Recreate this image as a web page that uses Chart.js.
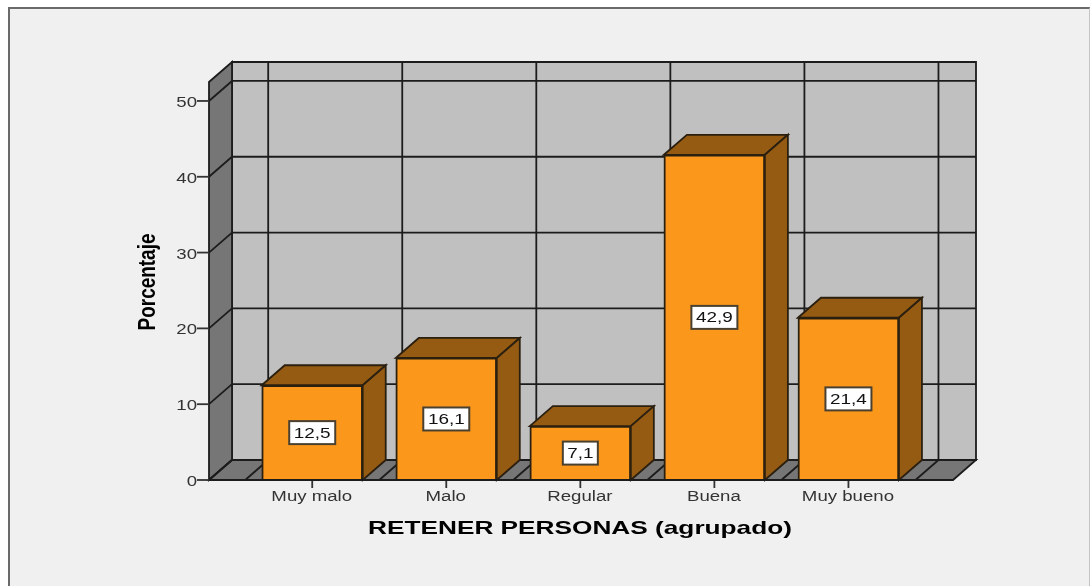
<!DOCTYPE html>
<html>
<head>
<meta charset="utf-8">
<title>RETENER PERSONAS (agrupado)</title>
<script src="https://cdn.jsdelivr.net/npm/chart.js@4/dist/chart.umd.min.js"></script>
<style>
  html, body { margin: 0; padding: 0; background: #fff; width: 1092px; height: 586px; overflow: hidden; }
  #frame { position: absolute; left: 8px; top: 7px; width: 1082px; height: 579px; background: #f0f0f0;
           border-left: 2px solid #6a6a6a; border-top: 2px solid #6a6a6a; border-right: 1px solid #c4c4c4; box-sizing: border-box; filter: blur(0.4px); }
  #chart { position: absolute; left: 0; top: 0; filter: blur(0.5px); }
</style>
</head>
<body>
<div id="frame"></div>
<canvas id="chart" width="1092" height="586"></canvas>
<script>
  const categories = ['Muy malo', 'Malo', 'Regular', 'Buena', 'Muy bueno'];
  const values = [12.5, 16.1, 7.1, 42.9, 21.4];
  const yTicks = [0, 10, 20, 30, 40, 50];
  const xTitle = 'RETENER PERSONAS (agrupado)';
  const yTitle = 'Porcentaje';

  const DX = 23, DY = 20;           // depth of the fake 3D box
  const FONT = '"Liberation Sans", Arial, sans-serif';
  const LINE = '#1c1c1c';

  function fmtEs(v) { return v.toFixed(1).replace('.', ','); }

  // the reference text is stretched wide, so scale it horizontally around x
  function wideText(ctx, text, x, y, font, color, sx, align) {
    ctx.save();
    ctx.font = font;
    ctx.fillStyle = color;
    ctx.textBaseline = 'alphabetic';
    ctx.textAlign = align || 'center';
    ctx.translate(x, y);
    ctx.scale(sx, 1);
    ctx.fillText(text, 0, 0);
    ctx.restore();
  }

  function seg(ctx, x1, y1, x2, y2) {
    ctx.beginPath();
    ctx.moveTo(x1, y1);
    ctx.lineTo(x2, y2);
    ctx.stroke();
  }

  function poly(ctx, pts, fill) {
    ctx.beginPath();
    pts.forEach((p, i) => i ? ctx.lineTo(p[0], p[1]) : ctx.moveTo(p[0], p[1]));
    ctx.closePath();
    ctx.fillStyle = fill;
    ctx.fill();
    ctx.stroke();
  }

  const box3d = {
    id: 'box3d',
    beforeDatasetsDraw(chart) {
      const { ctx, chartArea: a, scales: { x, y } } = chart;
      const l = a.left, r = a.right, t = a.top, b = a.bottom;
      ctx.save();
      ctx.strokeStyle = LINE;
      ctx.lineWidth = 1.8;
      // back wall, side wall, floor
      poly(ctx, [[l + DX, t - DY], [r + DX, t - DY], [r + DX, b - DY], [l + DX, b - DY]], '#c0c0c0');
      poly(ctx, [[l, t], [l + DX, t - DY], [l + DX, b - DY], [l, b]], '#767676');
      poly(ctx, [[l, b], [l + DX, b - DY], [r + DX, b - DY], [r, b]], '#767676');
      // horizontal grid lines run along side wall then back wall
      yTicks.forEach(v => {
        const py = y.getPixelForValue(v);
        seg(ctx, l, py, l + DX, py - DY);
        seg(ctx, l + DX, py - DY, r + DX, py - DY);
      });
      // vertical grid lines sit between categories, on back wall and floor
      categories.concat('').forEach((c, i) => {
        const px = x.getPixelForValue(i - 0.5);
        seg(ctx, px + DX, t - DY, px + DX, b - DY);
        seg(ctx, px, b, px + DX, b - DY);
      });
      // axis ticks
      ctx.strokeStyle = '#333';
      yTicks.forEach(v => {
        const py = y.getPixelForValue(v);
        seg(ctx, l - 12, py, l, py);
      });
      categories.forEach((c, i) => {
        const px = x.getPixelForValue(i);
        seg(ctx, px, b, px, b + 8);
      });
      ctx.restore();
    },
    afterDatasetsDraw(chart) {
      const { ctx, chartArea: a } = chart;
      const bars = chart.getDatasetMeta(0).data;
      ctx.save();
      ctx.strokeStyle = '#2b2010';
      ctx.lineWidth = 1.8;
      bars.forEach(bar => {
        const hw = bar.width / 2;
        const L = bar.x - hw, R = bar.x + hw, T = bar.y, B = bar.base;
        poly(ctx, [[L, T], [L + DX, T - DY], [R + DX, T - DY], [R, T]], '#955b12');
        poly(ctx, [[R, T], [R + DX, T - DY], [R + DX, B - DY], [R, B]], '#955b12');
      });
      // value boxes
      const font = '14px ' + FONT;
      bars.forEach((bar, i) => {
        const txt = fmtEs(values[i]);
        ctx.font = font;
        const tw = ctx.measureText(txt).width * 1.35;
        const w = Math.round(tw + 9), h = 23;
        const cy = (bar.y + bar.base) / 2;
        ctx.fillStyle = '#fff';
        ctx.strokeStyle = '#4a4030';
        ctx.lineWidth = 2;
        ctx.fillRect(bar.x - w / 2, cy - h / 2, w, h);
        ctx.strokeRect(bar.x - w / 2, cy - h / 2, w, h);
        wideText(ctx, txt, bar.x, cy + 5, font, '#111', 1.35);
      });
      // front edge over the bar feet
      ctx.strokeStyle = LINE;
      seg(ctx, a.left, a.bottom, a.right, a.bottom);
      ctx.restore();
    },
    afterDraw(chart) {
      const { ctx, chartArea: a, scales: { x, y } } = chart;
      const tickFont = '14px ' + FONT;
      yTicks.forEach(v => {
        wideText(ctx, String(v), a.left - 12, y.getPixelForValue(v) + 6, tickFont, '#333', 1.33, 'right');
      });
      categories.forEach((c, i) => {
        wideText(ctx, c, x.getPixelForValue(i) - 0.5, a.bottom + 21, tickFont, '#333', 1.33);
      });
      wideText(ctx, xTitle, (a.left + a.right) / 2 - 1, a.bottom + 54, 'bold 19px ' + FONT, '#000', 1.38);
      ctx.save();
      ctx.translate(a.left - 54, (a.top + a.bottom) / 2 + 1);
      ctx.rotate(-Math.PI / 2);
      wideText(ctx, yTitle, 0, 0, 'bold 24px ' + FONT, '#000', 0.79);
      ctx.restore();
    }
  };

  new Chart(document.getElementById('chart'), {
    type: 'bar',
    data: {
      datasets: [{
        data: categories.map((c, i) => ({ x: i, y: values[i] })),
        backgroundColor: '#fb981c',
        borderColor: '#2b2010',
        borderWidth: 2,
        barThickness: 101
      }]
    },
    options: {
      responsive: false,
      animation: false,
      layout: { padding: { left: 209, right: 139, top: 82, bottom: 106 } },
      plugins: { legend: { display: false }, tooltip: { enabled: false } },
      scales: {
        x: {
          type: 'linear', min: -0.77, max: 4.78, offset: false,
          grid: { display: false, drawTicks: false }, border: { display: false },
          ticks: { display: false },
          afterBuildTicks(s) { s.ticks = categories.map((c, i) => ({ value: i })); },
          afterFit(s) { s.height = 0; }
        },
        y: {
          min: 0, max: 52.5,
          grid: { display: false, drawTicks: false }, border: { display: false },
          ticks: { display: false, stepSize: 10 },
          afterFit(s) { s.width = 0; }
        }
      }
    },
    plugins: [box3d]
  });
</script>
</body>
</html>
